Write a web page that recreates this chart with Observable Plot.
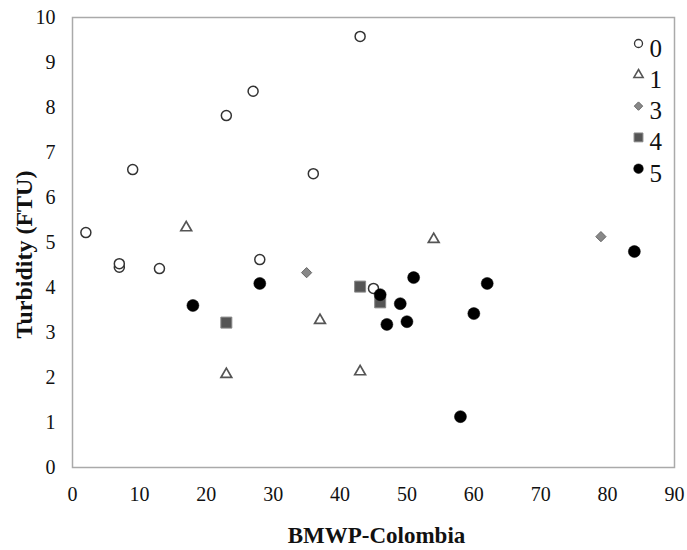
<!DOCTYPE html>
<html>
<head>
<meta charset="utf-8">
<script src="https://cdn.jsdelivr.net/npm/d3@7"></script>
<script src="https://cdn.jsdelivr.net/npm/@observablehq/plot@0.6"></script>
<style>
  html, body { margin: 0; padding: 0; background: #fff; }
</style>
</head>
<body>
<div id="chart"></div>
<script>
// Series labels
const seriesLabels = ["0", "1", "3", "4", "5"];
// Series 0 (open circles)
const x0 = [2, 7, 7, 9, 13, 23, 27, 28, 36, 43, 45];
const y0 = [5.22, 4.45, 4.53, 6.62, 4.42, 7.82, 8.36, 4.62, 6.53, 9.58, 3.98];
// Series 1 (triangles)
const x1 = [17, 23, 37, 43, 54];
const y1 = [5.33, 2.07, 3.27, 2.13, 5.07];
// Series 3 (diamonds)
const x3 = [35, 79];
const y3 = [4.33, 5.13];
// Series 4 (squares)
const x4 = [23, 43, 46];
const y4 = [3.22, 4.02, 3.67];
// Series 5 (filled circles)
const x5 = [18, 28, 46, 47, 49, 50, 51, 58, 60, 62, 84];
const y5 = [3.6, 4.09, 3.84, 3.18, 3.64, 3.24, 4.22, 1.13, 3.42, 4.09, 4.8];
// Tick values
const xTicks = [0, 10, 20, 30, 40, 50, 60, 70, 80, 90];
const yTicks = [0, 1, 2, 3, 4, 5, 6, 7, 8, 9, 10];

const pts = (xs, ys) => xs.map((x, i) => ({x, y: ys[i]}));

const styles = {
  "0": {symbol: "circle", r: 5, fill: "#fff", stroke: "#333", strokeWidth: 1.5},
  "1": {symbol: "triangle", r: 4, fill: "#fff", stroke: "#555", strokeWidth: 1.7},
  "3": {symbol: "diamond2", r: 4.6, fill: "#888", stroke: "#666", strokeWidth: 1},
  "4": {symbol: "square", r: 6.2, fill: "#555", stroke: "#888", strokeWidth: 1},
  "5": {symbol: "circle", r: 6, fill: "#000", stroke: "#000", strokeWidth: 0.5}
};
const legendStyles = {
  "0": {symbol: "circle", r: 4, fill: "#fff", stroke: "#333", strokeWidth: 1.3},
  "1": {symbol: "triangle", r: 3.4, fill: "#fff", stroke: "#555", strokeWidth: 1.6},
  "3": {symbol: "diamond2", r: 3.8, fill: "#888", stroke: "#666", strokeWidth: 1},
  "4": {symbol: "square", r: 5, fill: "#555", stroke: "#888", strokeWidth: 1},
  "5": {symbol: "circle", r: 4.8, fill: "#000", stroke: "#000", strokeWidth: 0.5}
};
const seriesData = {
  "0": pts(x0, y0), "1": pts(x1, y1), "3": pts(x3, y3), "4": pts(x4, y4), "5": pts(x5, y5)
};

const legendMarks = seriesLabels.flatMap((s, i) => [
  Plot.dot([s], {frameAnchor: "top-right", dx: -36, dy: 26 + i * 31.3, ...legendStyles[s]}),
  Plot.text([s], {frameAnchor: "top-right", text: d => d, dx: -25, dy: 31 + i * 31.3,
    textAnchor: "start", lineAnchor: "middle", fontSize: 25, fill: "#111"})
]);

const chart = Plot.plot({
  width: 687,
  height: 550,
  marginLeft: 72,
  marginRight: 13,
  marginTop: 17,
  marginBottom: 83,
  style: {fontFamily: "'Liberation Serif', 'Times New Roman', serif", fontSize: "20px", color: "#111", background: "#fff"},
  x: {domain: [0, 90]},
  y: {domain: [0, 10]},
  marks: [
    Plot.frame({stroke: "#aaa", strokeWidth: 1.5}),
    Plot.axisX({ticks: xTicks, tickSize: 0, tickPadding: 19, label: null, fontSize: 20}),
    Plot.axisY({ticks: yTicks, tickSize: 0, tickPadding: 17, label: null, fontSize: 20}),
    ...seriesLabels.map(s => Plot.dot(seriesData[s], {x: "x", y: "y", ...styles[s]})),
    ...legendMarks,
    Plot.text(["BMWP-Colombia"], {frameAnchor: "bottom", text: d => d, dx: 3, dy: 68, lineAnchor: "middle", textAnchor: "middle", fontSize: 23, fontWeight: "bold", fill: "#111"}),
    Plot.text(["Turbidity (FTU)"], {frameAnchor: "left", text: d => d, dx: -48, dy: 12, rotate: -90, textAnchor: "middle", lineAnchor: "middle", fontSize: 24, fontWeight: "bold", fill: "#111"})
  ]
});
document.getElementById("chart").appendChild(chart);
</script>
</body>
</html>
